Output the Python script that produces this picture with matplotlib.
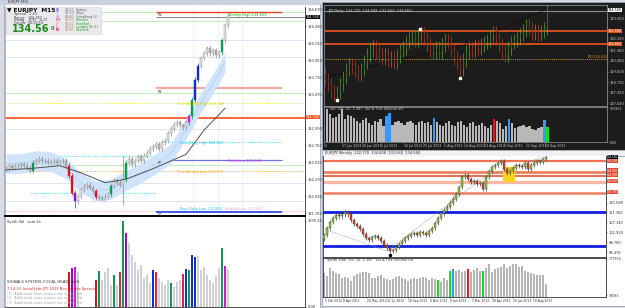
import matplotlib
matplotlib.use("Agg")
import matplotlib.pyplot as plt
from matplotlib.patches import Rectangle

W, H = 625, 308

# ---------------- EURJPY M15 (left window) ----------------
m15_close = [
    132.42, 132.45, 132.43, 132.46, 132.45, 132.48, 132.46, 132.43, 132.39, 132.50,
    132.53, 132.56, 132.52, 132.53, 132.50, 132.52, 132.53, 132.50, 132.52, 132.53,
    132.46, 132.32, 132.08, 131.96, 132.03, 132.13, 132.16, 132.19, 132.15, 132.10,
    132.02, 132.01, 131.99, 132.02, 132.06, 132.18, 132.25, 132.22, 132.19, 132.27,
    132.50, 132.56, 132.48, 132.53, 132.59, 132.53, 132.60, 132.64, 132.70, 132.73,
    132.76, 132.70, 132.79, 132.81, 132.92, 132.98, 133.04, 133.07, 133.03, 133.00,
    133.07, 133.16, 133.39, 133.67, 133.87, 133.98, 134.05, 134.12, 134.05, 134.09,
    134.02, 134.06, 134.23, 134.44, 134.57,
]
m15_first_open = 132.40
m15_spike_high = {39: 132.60}
m15_spike_low = {23: 131.86, 39: 131.91}

m15_band_idx = [0, 5, 10, 15, 20, 25, 30, 35, 40, 45, 50, 55, 60, 65, 70, 73]
m15_band_mid = [132.49, 132.49, 132.53, 132.52, 132.42, 132.22, 132.10, 132.13,
                132.25, 132.36, 132.49, 132.63, 132.98, 133.35, 133.69, 133.92]
m15_ma_idx = [0, 8, 18, 25, 33, 40, 48, 60, 66, 73]
m15_ma = [132.40, 132.42, 132.46, 132.36, 132.22, 132.27, 132.40, 132.62, 132.96, 133.27]

m15_volume = [
    0, 0, 0, 0, 0, 0, 0, 0, 0, 0,
    0, 0, 0, 0, 0, 0, 0, 0, 0, 0,
    0, 1602, 1785, 1830, 1602, 0, 0, 0, 0, 0,
    1236, 1647, 1236, 1602, 1785, 1007, 1464, 1007, 1602, 3935,
    3386, 2929, 2380, 2059, 1693, 1922, 1327, 1464, 1098, 1693,
    1602, 1327, 1144, 1007, 1236, 1098, 915, 1144, 1236, 1510,
    1739, 1693, 2380, 2288, 2334, 1693, 1830, 1464, 1236, 1098,
    1419, 1785, 2700, 1876, 1739,
]

m15_ticks = [131.79, 132.03, 132.27, 132.51, 132.75, 132.99, 133.47,
             133.71, 133.95, 134.19, 134.43, 134.67]
m15_last = 134.56
m15_resistance = 133.14
m15_green_levels = [134.63, 134.50, 133.49, 132.47]
m15_grid_levels = [134.24, 133.99, 132.98, 132.22, 131.96]
m15_pivot_names = ["R2", "R1", "PP", "S1"]
m15_pivot_values = [134.63, 133.55, 132.54, 131.81]
m15_prev_week_high = 133.35
m15_prev_week_low = 132.39
m15_prev_day_high = 132.80
m15_week_low = 131.82
m15_old_day_levels = [132.60, 132.08]
m15_session_marks = [62.3, 70.7, 78.7]

# ---------------- EURJPY Daily (top right) ----------------
d1_close = [
    128.96, 128.56, 128.00, 127.76, 127.92, 128.56, 129.12, 129.76, 130.16, 129.92,
    129.60, 129.36, 129.76, 130.40, 130.96, 131.36, 131.60, 131.20, 130.96, 130.72,
    130.96, 130.56, 130.72, 130.40, 130.88, 131.36, 131.52, 132.00, 132.32, 132.48,
    132.16, 132.56, 132.72, 132.32, 131.76, 131.36, 131.20, 131.52, 131.20, 131.76,
    132.16, 132.00, 131.36, 130.72, 130.40, 129.76, 130.56, 131.20, 131.52, 131.36,
    131.68, 131.52, 131.76, 132.00, 132.16, 132.56, 132.80, 132.32, 131.76, 131.20,
    130.96, 131.52, 132.00, 132.16, 132.32, 132.64, 132.96, 133.36, 133.12, 132.72,
    132.96, 132.64, 132.88, 133.12, 134.56,
]
d1_first_open = 129.40
d1_volume = [  # thousands
    160, 135, 115, 120, 135, 160, 110, 130, 125, 115,
    100, 90, 105, 115, 90, 85, 100, 95, 110, 80,
    125, 140, 85, 95, 100, 90, 85, 95, 100, 90,
    85, 95, 100, 90, 95, 85, 115, 95, 85, 80,
    90, 100, 85, 80, 95, 100, 85, 75, 90, 95,
    80, 85, 90, 80, 70, 85, 110, 100, 90, 65,
    80, 110, 90, 70, 75, 80, 85, 75, 80, 65,
    60, 70, 75, 105, 75,
]
d1_levels = [132.88, 131.84]
d1_pivot = 130.64
d1_trend_idx = [0, 48.3, 74]
d1_trend = [129.12, 131.92, 134.72]
d1_swing_idx = [4, 31.7, 45]
d1_swing = [127.30, 133.10, 129.10]
d1_ticks = [127.04, 127.92, 128.72, 129.60, 130.48, 131.36, 132.32, 133.92]
d1_date_pos = [-1, 5, 11.7, 18.3, 25.7, 32.3, 39.3, 46, 52.7, 59.3, 66.7, 73.3]
d1_date_labels = ["13", "17 Jun 2013", "26 Jun 2013", "5 Jul 2013", "16 Jul 2013",
                  "25 Jul 2013", "5 Aug 2013", "14 Aug 2013", "23 Aug 2013",
                  "3 Sep 2013", "12 Sep 2013", "19 Sep 2013"]

# ---------------- EURJPY Weekly (bottom right) ----------------
w1_close = [
    101.64, 104.60, 107.13, 108.82, 110.09, 109.66, 110.51, 111.35, 110.51, 107.97,
    106.29, 105.44, 104.18, 102.07, 100.38, 99.53, 100.80, 101.22, 100.38, 99.11,
    97.42, 96.16, 94.89, 95.31, 96.58, 97.85, 99.11, 100.38, 101.22, 102.07,
    102.49, 101.64, 102.91, 102.49, 101.64, 103.33, 104.60, 106.71, 108.82, 110.93,
    112.20, 113.88, 115.57, 117.26, 119.37, 122.32, 126.54, 127.39, 125.70, 124.43,
    124.85, 123.59, 124.01, 121.48, 126.54, 129.07, 130.76, 131.60, 132.45, 133.29,
    129.92, 128.23, 129.07, 130.34, 131.60, 131.03, 130.76, 132.45, 129.92, 131.60,
    132.45, 133.29, 132.87, 134.14, 134.98,
]
w1_first_open = 100.20
w1_volume = [  # thousands
    480, 420, 580, 520, 480, 460, 380, 400, 380, 320,
    420, 460, 480, 500, 500, 480, 380, 380, 420, 440,
    380, 360, 340, 360, 400, 420, 380, 360, 320, 360,
    380, 360, 380, 400, 380, 340, 380, 360, 340, 300,
    380, 350, 520, 560, 520, 540, 500, 520, 560, 500,
    540, 580, 520, 520, 580, 660, 500, 560, 580, 600,
    660, 580, 620, 660, 660, 600, 620, 520, 500, 480,
    460, 440, 440, 440, 260,
]
w1_levels = [133.29, 128.65, 126.96, 124.43, 119.79]
w1_supports = [111.35, 97.00]
w1_zone_idx = [59.7, 63.7]
w1_zone = [124.43, 130.76]
w1_zigzag_idx = [0.3, 21, 53, 73]
w1_zigzag = [104.18, 94.90, 126.10, 134.98]
w1_ticks = [94.47, 98.70, 102.92, 107.14, 111.36, 115.58]
w1_date_pos = [0.3, 6.3, 14.3, 21, 28, 35.3, 42, 49.3, 56, 63, 69.7]
w1_date_labels = ["5 Feb 2012", "8 Apr 2012", "20 May 2012", "22 Jul 2012",
                  "16 Sep 2012", "4 Nov 2012", "6 Jan 2013", "3 Mar 2013",
                  "28 Apr 2013", "16 Jun 2013", "18 Aug 2013"]

GREEN, RED, BLUE, PURPLE, MAGENTA, CRIMSON = "#109a50", "#e01020", "#1030d0", "#8a10d0", "#e010e0", "#e0204a"
M15_CANDLE_HL = {9: GREEN, 21: RED, 22: RED, 23: PURPLE, 30: RED, 35: GREEN, 40: GREEN,
                 61: MAGENTA, 62: GREEN, 63: BLUE, 64: BLUE, 72: GREEN}
M15_VOL_HL = {21: RED, 22: PURPLE, 23: MAGENTA, 30: RED, 31: GREEN, 36: GREEN, 38: CRIMSON,
              39: GREEN, 40: PURPLE, 49: BLUE, 50: CRIMSON, 55: GREEN, 59: CRIMSON, 60: BLUE,
              61: GREEN, 62: BLUE, 63: BLUE, 72: GREEN, 73: MAGENTA}
D1_VOL_HL = {20: "#3399ff", 21: "#3399ff", 36: "#3399ff", 56: "#ff1010", 61: "#3399ff",
             73: "#3399ff", 74: "#10e010"}
W1_VOL_HL = {38: "#10e010", 42: "#10e010", 43: "#3399ff", 48: "#ff1010", 53: "#10e010"}

fig = plt.figure(figsize=(W / 100, H / 100), dpi=100)
fig.patch.set_facecolor("#d7dce4")


def px_axes(x0, y0, x1, y1, **kw):
    return fig.add_axes([x0 / W, 1 - y1 / H, (x1 - x0) / W, (y1 - y0) / H], **kw)


def style_axes(ax, face, spine, xlim, labelsize=2.6):
    ax.set_facecolor(face)
    ax.set_xlim(*xlim)
    ax.set_xticks([])
    for s in ax.spines.values():
        s.set_color(spine)
        s.set_linewidth(0.6)
    ax.yaxis.tick_right()
    ax.tick_params(axis="y", length=1, width=0.4, pad=0.8, labelsize=labelsize, colors=spine)


def candles(ax, close, first_open, wick, up_face, dn_face, edge, width, hl=None,
            spike_hi=None, spike_lo=None, min_body=0.01, wick_col=None):
    hl = hl or {}
    spike_hi = spike_hi or {}
    spike_lo = spike_lo or {}
    opens = [first_open] + close[:-1]
    xs = list(range(len(close)))
    lo_b = [min(o, c) for o, c in zip(opens, close)]
    hi_b = [max(o, c) for o, c in zip(opens, close)]
    highs = [spike_hi.get(i, h + wick) for i, h in enumerate(hi_b)]
    lows = [spike_lo.get(i, l - wick) for i, l in enumerate(lo_b)]
    faces = [hl.get(i, up_face if c >= o else dn_face) for i, (o, c) in enumerate(zip(opens, close))]
    edges = [hl.get(i, edge) for i in xs]
    wicks = edges if wick_col is None else faces
    ax.vlines(xs, lows, highs, colors=wicks, lw=0.5, zorder=3)
    ax.bar(xs, [max(h - l, min_body) for h, l in zip(hi_b, lo_b)], bottom=lo_b, width=width,
           color=faces, edgecolor=edges, linewidth=0.3, zorder=4)


# background layer in pixel coordinates
bg = fig.add_axes([0, 0, 1, 1])
bg.set_xlim(0, W)
bg.set_ylim(H, 0)
bg.axis("off")
bg.add_patch(Rectangle((4, 4), 316, 304, facecolor="white", edgecolor="#9aa4b4", lw=0.6))
bg.add_patch(Rectangle((0, 0), 320, 4.5, facecolor="#c9d2de", edgecolor="none"))
bg.add_patch(Rectangle((322, 2), 303, 148, facecolor="#1c1c1c", edgecolor="#9aa4b4", lw=0.6))
bg.add_patch(Rectangle((322, 150), 303, 6, facecolor="#eef0f3", edgecolor="#9aa4b4", lw=0.5))
bg.add_patch(Rectangle((322, 156), 303, 150, facecolor="white", edgecolor="#9aa4b4", lw=0.6))

# ---------------- left: M15 price ----------------
ax = px_axes(5, 7, 305, 216)
style_axes(ax, "white", "#303030", (-0.33, 99.67))
ax.set_ylim(131.75, 134.70)
ax.set_yticks(m15_ticks)
ax.set_yticklabels([f"{v:.3f}" for v in m15_ticks])
ax.spines["bottom"].set_linewidth(1.4)
ax.spines["bottom"].set_color("black")
ax.spines["top"].set_visible(False)
ax.spines["left"].set_color("#b0b0b0")

for v in m15_green_levels:
    ax.axhline(v, color="#b8ecb0", lw=0.6, zorder=1)
for v in m15_grid_levels:
    ax.axhline(v, color="#dcdcf4", lw=0.6, zorder=1)
for xm in m15_session_marks:
    ax.axvline(xm, color="#c8c8c8", lw=0.4, ls=(0, (1, 1.5)), zorder=1)
ax.axhline(m15_prev_week_high, color="#f0f040", lw=0.7, ls=(0, (1, 1)), zorder=1)
ax.axhline(m15_prev_week_low, color="#f5b040", lw=0.7, ls=(0, (1, 1)), zorder=1)
ax.axhline(m15_week_low, color="#f4a8c8", lw=0.6, ls=(0, (2, 1.5)), zorder=1)
ax.axhline(m15_resistance, color="#f05a28", lw=1.3, zorder=2)
for v in m15_old_day_levels:
    ax.hlines(v, 8, 50, color="#60e8f0", lw=0.8, ls=(0, (1, 1)), zorder=1)
ax.hlines(m15_prev_day_high, 50, 92, color="#60e8f0", lw=0.8, ls=(0, (1, 1)), zorder=1)
piv_colors = ["#e8401c", "#f4a8a0", "#7070e0", "#3050e0"]
piv_widths = [1.0, 1.6, 0.9, 1.3]
for name, v, c, lw in zip(m15_pivot_names, m15_pivot_values, piv_colors, piv_widths):
    ax.hlines(v, 50, 92, color=c, lw=lw, zorder=2)
    ax.text(50.5, v - 0.02, name, fontsize=2.6, color="#404040", va="top", zorder=6)
ax.axhline(m15_pivot_values[0], color="#b8ecb0", lw=0.6, ls=(0, (1, 1)), zorder=1)
ax.hlines(m15_last, 50, 99.67, color="#707070", lw=0.6, zorder=2)

# keltner-style band and moving average
ax.fill_between(m15_band_idx, [m - 0.14 for m in m15_band_mid], [m + 0.14 for m in m15_band_mid],
                color="#cfe3fb", lw=0, zorder=2)
ax.plot(m15_band_idx, m15_band_mid, color="#7fb0e8", lw=0.4, ls=(0, (1, 1)), zorder=2)
ax.plot(m15_ma_idx, m15_ma, color="#505050", lw=0.7, zorder=5)
candles(ax, m15_close, m15_first_open, 0.035, "#e4e4e4", "#b4b4b4", "#8c8c8c", 0.55,
        hl=M15_CANDLE_HL, spike_hi=m15_spike_high, spike_lo=m15_spike_low)

tk = dict(fontsize=2.6, zorder=6)
ax.text(74, m15_last + 0.01, "Weekly High 134.609", color="#20a020", **tk)
ax.text(57, m15_prev_week_high - 0.035, "Prev Weekly High 133.349", color="#d0d000", **tk)
ax.text(58, m15_prev_day_high - 0.03, "Prev Daily High 132.801", color="#10c0e0", **tk)
ax.text(74, m15_pivot_values[2] - 0.03, "Daily Low 132.544", color="#e040e0", **tk)
ax.text(57, m15_prev_week_low - 0.035, "Prev Weekly Low 132.391", color="#f0a030", **tk)
ax.text(58, m15_week_low + 0.01, "Prev Daily Low 131.810", color="#10c0e0", **tk)
ax.text(73, m15_week_low + 0.01, "Weekly Low 131.820", color="#f0a0c0", **tk)

# ---------------- left: volume ----------------
axv = px_axes(5, 217, 305, 307)
style_axes(axv, "white", "#303030", (-0.33, 99.67))
axv.spines["top"].set_visible(False)
axv.spines["left"].set_color("#b0b0b0")
axv.set_ylim(0, 4118)
axv.set_yticks([0, 3935.45])
axv.set_yticklabels(["0.00", "3935.45"])
axv.bar(range(len(m15_volume)), m15_volume, width=0.7,
        color=[M15_VOL_HL.get(i, "#cfd0d4") for i in range(len(m15_volume))], lw=0)
axv.text(0.5, 3980, "Synth Vol   sum 2e", fontsize=2.6, color="#303030", va="top")
axv.text(0.5, 1080, "SIGNALS SYSTEM: FOCAL HEADLINES", fontsize=2.8, color="#303030")
axv.text(0.5, 800, "7:14:33  Initial Jobs JPY 2013 Nov Kuroda Speech", fontsize=2.6, color="#e02020")
for k, yv in enumerate([560, 350, 140]):
    axv.text(0.5, yv, f"({k + 1})  Additional news events not scheduled", fontsize=2.5, color="#a0a0a0")

# ---------------- top right: Daily ----------------
axd = px_axes(324, 5, 607, 106)
style_axes(axd, "#1c1c1c", "#8a8a8a", (-0.33, 94))
axd.set_ylim(126.80, 135.04)
axd.set_yticks(d1_ticks)
axd.set_yticklabels([f"{v:.3f}" for v in d1_ticks])
axd.tick_params(axis="y", colors="#c8c8c8")
axd.axhline(d1_close[-1], color="#8890a0", lw=0.8, zorder=1)
for v in d1_levels:
    axd.axhline(v, color="#e0501c", lw=1.3, zorder=1)
axd.axhline(d1_pivot, color="#b89030", lw=0.7, ls=(0, (1, 1)), zorder=1)
axd.text(87.5, d1_pivot + 0.1, "R1(130.64)", fontsize=2.6, color="#c89030")
axd.plot(d1_trend_idx, d1_trend, color="#050505", lw=0.7, ls=(0, (1, 1.2)), zorder=2)
candles(axd, d1_close, d1_first_open, 0.55, "#5aa828", "#b84018", "#1c1c1c", 0.3,
        min_body=0.05, wick_col="face")
axd.plot(d1_swing_idx, d1_swing, ls="none", marker="s", ms=1.6, color="white", zorder=6)
axd.text(1, 134.75, "JPY,Daily  132.770  134.608  132.560  134.560", fontsize=2.6, color="#d0d0d0", va="top")

axdv = px_axes(324, 107, 607, 142)
style_axes(axdv, "#1c1c1c", "#8a8a8a", (-0.33, 94), labelsize=2.3)
axdv.set_ylim(0, 170)
axdv.set_yticks([0, 163.9])
axdv.set_yticklabels(["0.00", "163903"])
axdv.tick_params(axis="y", colors="#c8c8c8")
axdv.bar(range(len(d1_volume)), d1_volume, width=0.75,
         color=[D1_VOL_HL.get(i, "#b8b8b8") for i in range(len(d1_volume))], lw=0)
axdv.text(1, 168, "Vol  (20, 15, 1.38)   Vol & Tick Volume off", fontsize=2.5, color="#d0d0d0", va="top")
axdv.set_xticks(d1_date_pos)
axdv.set_xticklabels(d1_date_labels, ha="left")
axdv.tick_params(axis="x", length=1, width=0.4, pad=0.6, labelsize=2.3, colors="#c8c8c8")

# ---------------- bottom right: Weekly ----------------
axw = px_axes(323, 156, 606, 257)
style_axes(axw, "white", "#303030", (-0.33, 94))
axw.set_ylim(92.36, 135.40)
axw.set_yticks(w1_ticks)
axw.set_yticklabels([f"{v:.3f}" for v in w1_ticks])
axw.spines["top"].set_visible(False)
lvl_colors = ["#f07050", "#f08060", "#e86040", "#f8b8a8", "#f08060"]
lvl_widths = [1.6, 2.0, 1.3, 2.4, 1.8]
for v, c, lw in zip(w1_levels, lvl_colors, lvl_widths):
    axw.axhline(v, color=c, lw=lw, zorder=1)
for v in w1_supports:
    axw.axhline(v, color="#1020e0", lw=2.0, zorder=1)
axw.add_patch(Rectangle((w1_zone_idx[0], w1_zone[0]), w1_zone_idx[1] - w1_zone_idx[0],
                        w1_zone[1] - w1_zone[0], facecolor="#ffd21e", edgecolor="none", zorder=2))
axw.plot(w1_zigzag_idx, w1_zigzag, color="#909090", lw=0.6, ls=(0, (1, 1.2)), zorder=2)
candles(axw, w1_close, w1_first_open, 0.9, "#8cc43c", "#e03c20", "#404040", 0.6, min_body=0.2)
axw.plot([22], [93.3], ls="none", marker="o", ms=1.5, color="black", zorder=6)

axwv = px_axes(323, 258, 606, 297)
style_axes(axwv, "white", "#303030", (-0.33, 94), labelsize=2.3)
axwv.set_ylim(0, 780)
axwv.set_yticks([38, 777])
axwv.set_yticklabels(["38083", "777974"])
axwv.bar(range(len(w1_volume)), w1_volume, width=0.75,
         color=[W1_VOL_HL.get(i, "#b4b4b4") for i in range(len(w1_volume))], lw=0)
axwv.text(1, 770, "Synth VSA  (20, 15, 1.38)   Vol & Tick Volume off", fontsize=2.5, color="#303030", va="top")
axwv.set_xticks(w1_date_pos)
axwv.set_xticklabels(w1_date_labels, ha="left")
axwv.tick_params(axis="x", length=1, width=0.4, pad=0.6, labelsize=2.2, colors="#303030")

# ---------------- overlay: title bars, info box, price tags ----------------
top = fig.add_axes([0, 0, 1, 1])
top.set_xlim(0, W)
top.set_ylim(H, 0)
top.axis("off")
top.patch.set_alpha(0)
top.text(8, 2.3, "EURJPY,M15", fontsize=2.6, color="#303030", va="center")
top.text(325, 153, "EURJPY,Weekly  132.770  134.608  132.560  134.560", fontsize=2.6,
         color="#303030", va="center")


def tag(x, y, s, fc, tc, fs=2.4):
    top.text(x, y, s, fontsize=fs, color=tc, va="center",
             bbox=dict(boxstyle="square,pad=0.08", fc=fc, ec="none"))


tag(306, 17, "134.560", "black", "white")
tag(306, 117, "133.140", "#f05a28", "white")
tag(608, 10, "134.560", "white", "black")
tag(608, 31, "132.880", "#e0501c", "white")
tag(608, 44, "131.840", "#e0501c", "white")
tag(607, 157, "134.560", "black", "white", fs=2.0)
for yy, s in zip([161, 170.5, 174.5, 181, 192], ["133.290", "128.650", "126.960", "124.430", "119.790"]):
    tag(607, yy, s, "#e84828", "white", fs=2.0)

# info panel
top.add_patch(Rectangle((6, 7), 95, 27, facecolor="#e9e9ee", edgecolor="#d0d0d8", lw=0.4))
top.text(7, 10.5, "\u25bc EURJPY  M15", fontsize=4.2, fontweight="bold", color="#101010", va="center")
for k, s in enumerate(["Spread   1.20", "Range   100.367", "Swing   -4.91  -4.17", "Candle  00:03:14"]):
    top.text(14, 14.5 + 3 * k, s, fontsize=2.4, color="#404040", va="center")
top.text(12, 29.5, "134.56", fontsize=7.0, fontweight="bold", color="#1a8a1a", va="center")
top.text(51, 28, "0", fontsize=3.6, fontweight="bold", color="#1a8a1a", va="center")
letters = ["S", "T", "H", "M", "F", "L", "R"]
letter_cols = ["#3050f0", "#9aa0f0", "#c0a0e0", "#f06080", "#f0a0b0", "#f080a0", "#e01060"]
times = ["22:00", "23:00", "01:00", "06:00", "08:00", "08:00", "13:00"]
places = ["Sydney", "Tokyo", "HongKong (L)", "Moscow", "Frankfurt", "London (8+1)", "NewYork"]
place_cols = ["#606060", "#606060", "#606060", "#20a020", "#20a020", "#20a020", "#20a020"]
for k in range(7):
    yy = 10 + 3.4 * k
    top.text(56, yy, letters[k], fontsize=3, fontweight="bold", color=letter_cols[k], va="center")
    top.text(65, yy, times[k], fontsize=2.3, color="#b08040" if k > 2 else "#707070", va="center")
    top.text(76, yy, places[k], fontsize=2.3, color=place_cols[k], va="center")

fig.savefig("out.png", dpi=100, facecolor=fig.get_facecolor())
